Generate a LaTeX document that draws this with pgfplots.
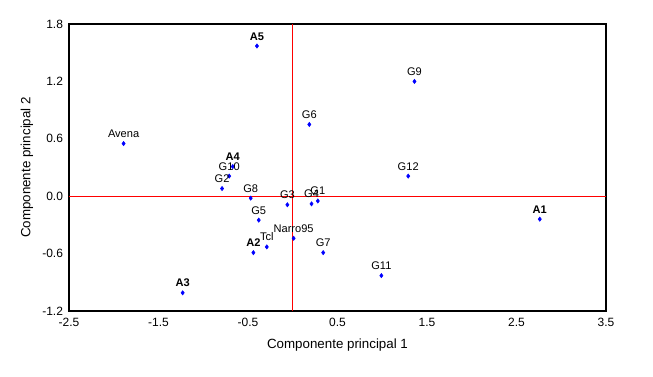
\documentclass[border=0pt]{standalone}
\usepackage{fontspec}
\setmainfont{Liberation Sans}
\usepackage{pgfplots}
\pgfplotsset{compat=1.18}
\begin{document}
\begin{tikzpicture}
\begin{axis}[
  scale only axis,
  width=402.75pt, height=215.25pt,
  xmin=-2.5, xmax=3.5, ymin=-1.2, ymax=1.8,
  xtick={-2.5,-1.5,-0.5,0.5,1.5,2.5,3.5},
  xticklabels={-2.5,-1.5,-0.5,0.5,1.5,2.5,3.5},
  ytick={-1.2,-0.6,0,0.6,1.2,1.8},
  yticklabels={-1.2,-0.6,0.0,0.6,1.2,1.8},
  major tick length=0pt,
  tick label style={font=\fontsize{9}{10}\selectfont},
  xticklabel style={yshift=-2pt},
  yticklabel style={xshift=-1pt},
  axis line style={black, line width=0.8pt},
  xlabel={Componente principal 1},
  ylabel={Componente principal 2},
  label style={font=\fontsize{9}{10}\selectfont},
  every axis x label/.style={at={(axis description cs:0.5,-0.1185)},anchor=center},
  every axis y label/.style={at={(axis description cs:-0.0782,0.5)},anchor=center,rotate=90},
  clip=false,
]
\addplot[red, line width=1pt] coordinates {(0,-1.2) (0,1.8)};
\addplot[red, line width=1pt] coordinates {(-2.5,0) (3.5,0)};
\addplot[
  only marks, mark=diamond*, mark size=1.6pt, color=blue,
  point meta=explicit symbolic,
  nodes near coords,
  every node near coord/.append style={anchor=base, yshift=4.5pt, inner sep=0pt, text=black, font=\fontsize{8.3}{9}\selectfont},
] coordinates {
  (2.76,-0.24) [\textbf{A1}]
  (-0.44,-0.59) [\textbf{A2}]
  (-1.23,-1.01) [\textbf{A3}]
  (-0.67,0.31) [\textbf{A4}]
  (-0.40,1.57) [\textbf{A5}]
  (-1.89,0.55) [Avena]
  (-0.71,0.21) [G10]
  (-0.79,0.08) [G2]
  (-0.47,-0.02) [G8]
  (-0.06,-0.09) [G3]
  (0.21,-0.08) [G4]
  (0.28,-0.05) [G1]
  (-0.38,-0.25) [G5]
  (0.01,-0.44) [Narro95]
  (-0.29,-0.53) [Tcl]
  (0.34,-0.59) [G7]
  (0.185,0.75) [G6]
  (1.36,1.20) [G9]
  (1.29,0.21) [G12]
  (0.99,-0.83) [G11]
};
\end{axis}
\pgfresetboundingbox
\path ([shift={(-51.75pt,-48.75pt)}]current axis.south west) rectangle ([shift={(35.25pt,18pt)}]current axis.north east);
\end{tikzpicture}
\end{document}
